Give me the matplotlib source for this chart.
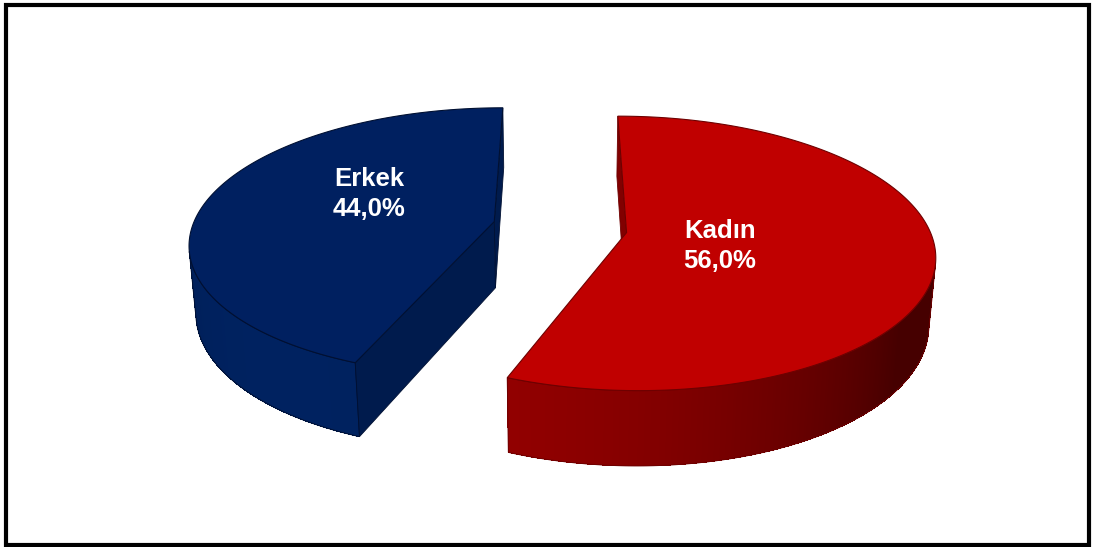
import numpy as np
import matplotlib
matplotlib.use("Agg")
import matplotlib.pyplot as plt
from matplotlib.patches import Polygon, Rectangle

# ---- data ----
labels = ["Erkek", "Kadın"]
values = [44.0, 56.0]

# ---- style ----
top_colors = [(0/255, 32/255, 96/255), (192/255, 0/255, 0/255)]
side_light = [(0/255, 34/255, 96/255), (148/255, 0/255, 0/255)]
side_dark = [(0/255, 22/255, 64/255), (70/255, 0/255, 0/255)]
edge_colors = [(0/255, 16/255, 50/255), (110/255, 0/255, 0/255)]
label_pos = [(369, 185.5), (720, 237.5)]
line_gap = 30

W, H = 1094, 547
fig = plt.figure(figsize=(W / 100, H / 100), dpi=100)
ax = fig.add_axes([0, 0, 1, 1])
ax.set_xlim(0, W)
ax.set_ylim(H, 0)
ax.axis("off")

# ---- 3D camera ----
alpha = np.deg2rad(26.0)
ca, sa = np.cos(alpha), np.sin(alpha)
D = 5.96
S = 302.0
x0, y0 = 560.0, 227.0
thick = 0.25
explode = 0.223
cam = np.array([0.0, D * ca, D * sa])
light = np.array([-0.6, 0.8, 0.0])
light /= np.linalg.norm(light)


def proj(X, Z, Hh):
    X = np.asarray(X, float); Z = np.asarray(Z, float); Hh = np.asarray(Hh, float)
    up = Hh * ca - Z * sa
    d = D - (Z * ca + Hh * sa)
    f = D / d
    return x0 + S * X * f, y0 - S * up * f


def mix(c1, c2, t):
    return tuple(a + (b - a) * t for a, b in zip(c1, c2))


total = sum(values)
start = 90.0
for i, v in enumerate(values):
    t1 = start
    t2 = start + v / total * 360.0
    start = t2
    mid = np.deg2rad((t1 + t2) / 2)
    ex, ez = explode * np.cos(mid), -explode * np.sin(mid)

    def pt(theta, Hh):
        return np.array([ex + np.cos(theta), ez - np.sin(theta), Hh])

    # rim strips (visible part only)
    th = np.deg2rad(np.linspace(t1, t2, 400))
    vis = []
    for a, b in zip(th[:-1], th[1:]):
        m = (a + b) / 2
        n = np.array([np.cos(m), -np.sin(m), 0.0])
        p = pt(m, 0.0)
        if np.dot(cam - p, n) <= 0:
            continue
        vis.append((a, b))
        inten = max(0.0, float(np.dot(n, light)))
        col = mix(side_dark[i], side_light[i], inten)
        P = [pt(a, 0), pt(b, 0), pt(b, -thick), pt(a, -thick)]
        xs, ys = proj([q[0] for q in P], [q[1] for q in P], [q[2] for q in P])
        ax.add_patch(Polygon(list(zip(xs, ys)), closed=True, facecolor=col,
                             edgecolor="none", antialiased=False, zorder=2))
    if vis:
        ta = np.array([vis[0][0]] + [b for _, b in vis])
        top_arc = proj(ex + np.cos(ta), ez - np.sin(ta), np.zeros_like(ta))
        bot_arc = proj(ex + np.cos(ta), ez - np.sin(ta), np.full_like(ta, -thick))
        xs = np.concatenate([top_arc[0], bot_arc[0][::-1]])
        ys = np.concatenate([top_arc[1], bot_arc[1][::-1]])
        ax.add_patch(Polygon(list(zip(xs, ys)), closed=True, fill=False,
                             edgecolor=edge_colors[i], linewidth=0.7, zorder=2.5))

    # radial faces
    c_top = np.array([ex, ez, 0.0])
    c_bot = np.array([ex, ez, -thick])
    for tb, phi in ((t1, t1 - 90), (t2, t2 + 90)):
        r = np.deg2rad(tb)
        ph = np.deg2rad(phi)
        n = np.array([np.cos(ph), -np.sin(ph), 0.0])
        e_top = pt(r, 0.0)
        if np.dot(cam - (c_top + e_top) / 2, n) <= 0:
            continue
        inten = max(0.0, float(np.dot(n, light)))
        col = mix(side_dark[i], side_light[i], 0.4 + 0.6 * inten)
        P = [c_top, e_top, pt(r, -thick), c_bot]
        xs, ys = proj([q[0] for q in P], [q[1] for q in P], [q[2] for q in P])
        ax.add_patch(Polygon(list(zip(xs, ys)), closed=True, facecolor=col,
                             edgecolor=edge_colors[i], linewidth=0.6, zorder=3))

    # top face
    tt = np.deg2rad(np.linspace(t1, t2, 300))
    Xs = np.concatenate([[ex], ex + np.cos(tt)])
    Zs = np.concatenate([[ez], ez - np.sin(tt)])
    xs, ys = proj(Xs, Zs, np.zeros_like(Xs))
    ax.add_patch(Polygon(list(zip(xs, ys)), closed=True, facecolor=top_colors[i],
                         edgecolor=edge_colors[i], linewidth=0.8, zorder=4))

    # labels
    lx, ly = label_pos[i]
    ax.text(lx, ly, labels[i], ha="center", va="baseline", color="white",
            fontsize=18.5, fontweight="bold", family="Liberation Sans", zorder=6)
    ax.text(lx, ly + line_gap, f"{v:.1f}%".replace(".", ","), ha="center",
            va="baseline", color="white", fontsize=18.5, fontweight="bold",
            family="Liberation Sans", zorder=6)

# frame
ax.add_patch(Rectangle((5.5, 5.3), 1083, 539.7, fill=False, edgecolor="black",
                       linewidth=3, zorder=10, clip_on=False))

fig.savefig("out.png", dpi=100)
